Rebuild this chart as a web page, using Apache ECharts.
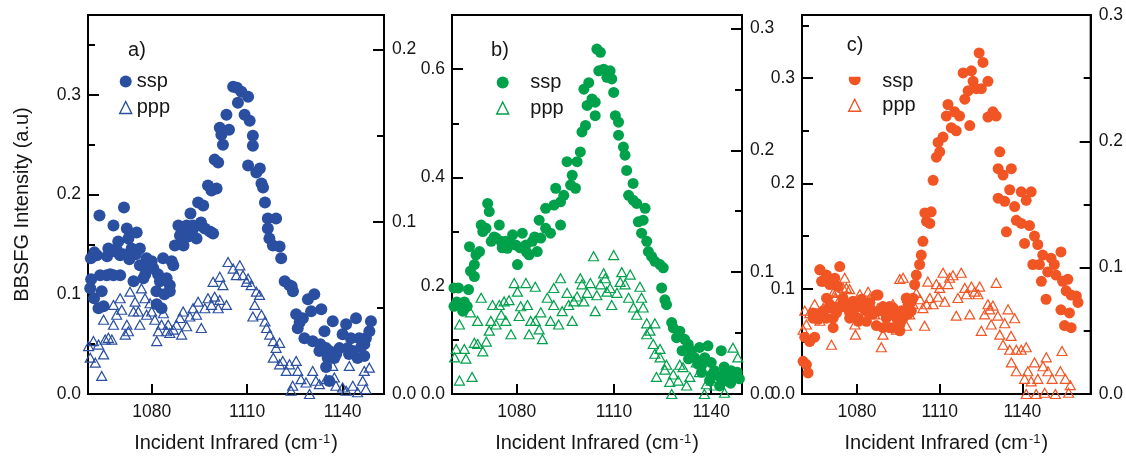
<!DOCTYPE html>
<html>
<head>
<meta charset="utf-8">
<script src="https://cdn.jsdelivr.net/npm/echarts@6/dist/echarts.min.js"></script>
<style>
  html, body { margin: 0; padding: 0; background: #fff; }
  #chart { width: 1126px; height: 458px; }
</style>
</head>
<body>
<div id="chart"></div>
<script>
// ---- measured spectra: [wavenumber (cm-1), intensity] ----
const sspA = [[1059.9,0.187],[1063.6,0.179],[1060.9,0.136],[1062.8,0.139],[1060.7,0.106],[1061.9,0.096],[1064.3,0.103],[1063.3,0.086],[1064.9,0.088],[1063.8,0.119],[1065.9,0.119],[1066.4,0.146],[1068.0,0.169],[1068.5,0.143],[1069.5,0.153],[1071.3,0.187],[1072.2,0.166],[1072.7,0.156],[1070.1,0.139],[1068.0,0.119],[1070.1,0.119],[1073.7,0.146],[1075.3,0.162],[1074.3,0.113],[1076.3,0.146],[1076.3,0.129],[1077.9,0.129],[1078.4,0.136],[1080.0,0.133],[1077.4,0.116],[1080.5,0.126],[1081.5,0.103],[1083.6,0.136],[1082.6,0.113],[1084.7,0.116],[1086.3,0.133],[1085.7,0.109],[1083.1,0.086],[1081.6,0.090],[1085.7,0.103],[1086.8,0.129],[1087.3,0.149],[1088.9,0.159],[1088.4,0.169],[1090.0,0.149],[1091.0,0.169],[1092.2,0.181],[1092.7,0.163],[1094.1,0.156],[1093.0,0.169],[1095.1,0.169],[1094.6,0.192],[1096.2,0.189],[1096.7,0.166],[1098.3,0.163],[1099.3,0.161],[1097.7,0.209],[1098.8,0.204],[1100.4,0.206],[1099.8,0.235],[1100.9,0.232],[1101.4,0.267],[1101.9,0.260],[1102.4,0.250],[1103.5,0.280],[1104.3,0.265],[1105.6,0.308],[1106.8,0.307],[1107.1,0.292],[1108.2,0.303],[1110.3,0.298],[1109.2,0.280],[1110.8,0.274],[1111.8,0.259],[1110.3,0.229],[1111.8,0.249],[1112.9,0.222],[1114.0,0.226],[1114.5,0.211],[1115.0,0.207],[1115.6,0.192],[1116.5,0.176],[1119.1,0.176],[1116.5,0.166],[1117.0,0.156],[1118.1,0.149],[1120.2,0.148],[1120.7,0.136],[1121.8,0.113],[1123.3,0.109],[1124.4,0.103],[1125.4,0.080],[1127.5,0.076],[1125.9,0.066],[1128.0,0.056],[1129.1,0.095],[1131.1,0.100],[1130.1,0.083],[1133.3,0.085],[1130.6,0.053],[1132.7,0.043],[1134.8,0.046],[1136.9,0.073],[1134.3,0.063],[1135.8,0.043],[1137.4,0.036],[1135.3,0.036],[1134.8,0.027],[1135.8,0.013],[1139.0,0.046],[1140.0,0.060],[1141.1,0.070],[1142.6,0.056],[1141.6,0.046],[1144.2,0.076],[1143.2,0.043],[1144.7,0.036],[1145.2,0.056],[1146.8,0.050],[1147.3,0.056],[1148.9,0.073],[1148.4,0.063],[1146.8,0.038],[1066.0,0.138],[1067.0,0.120],[1069.0,0.145],[1071.0,0.140],[1073.0,0.135],[1075.0,0.140],[1078.0,0.120],[1079.0,0.130],[1082.0,0.120],[1084.0,0.100],[1061.0,0.115],[1062.0,0.142],[1089.5,0.160],[1091.5,0.158],[1095.5,0.172],[1124.0,0.108],[1126.5,0.072],[1133.0,0.050],[1138.0,0.040],[1142.0,0.040],[1145.8,0.047]];
const pppA = [[1060.2,0.0278],[1061.7,0.0307],[1060.7,0.0211],[1062.3,0.0182],[1064.3,0.0105],[1064.9,0.0230],[1063.3,0.0287],[1065.4,0.0316],[1064.9,0.0431],[1066.4,0.0326],[1067.5,0.0316],[1068.0,0.0402],[1068.0,0.0517],[1069.0,0.0460],[1070.1,0.0556],[1070.6,0.0489],[1071.7,0.0345],[1072.2,0.0402],[1072.7,0.0364],[1073.2,0.0594],[1074.3,0.0479],[1074.8,0.0536],[1076.3,0.0402],[1075.8,0.0479],[1076.8,0.0613],[1077.9,0.0556],[1078.4,0.0460],[1079.5,0.0527],[1080.0,0.0479],[1081.0,0.0431],[1081.6,0.0307],[1082.1,0.0364],[1083.1,0.0402],[1083.7,0.0469],[1084.7,0.0364],[1085.2,0.0402],[1085.7,0.0354],[1086.8,0.0374],[1087.8,0.0402],[1088.9,0.0441],[1089.4,0.0345],[1089.9,0.0479],[1091.0,0.0393],[1092.0,0.0450],[1093.0,0.0498],[1094.1,0.0460],[1094.6,0.0536],[1095.6,0.0383],[1096.7,0.0498],[1097.7,0.0556],[1098.8,0.0517],[1099.8,0.0565],[1100.9,0.0498],[1101.4,0.0546],[1103.5,0.0517],[1099.3,0.0651],[1101.4,0.0680],[1102.4,0.0632],[1104.0,0.0766],[1105.6,0.0728],[1106.6,0.0690],[1107.7,0.0747],[1108.7,0.0690],[1109.8,0.0651],[1110.3,0.0670],[1111.3,0.0632],[1112.9,0.0594],[1113.9,0.0575],[1112.4,0.0517],[1114.5,0.0460],[1111.8,0.0450],[1115.6,0.0421],[1116.1,0.0383],[1117.1,0.0345],[1118.2,0.0307],[1119.1,0.0268],[1120.2,0.0297],[1118.2,0.0211],[1120.2,0.0172],[1121.2,0.0192],[1122.3,0.0134],[1123.3,0.0172],[1125.4,0.0192],[1125.9,0.0134],[1123.8,0.0019],[1124.3,0.0048],[1126.9,0.0086],[1128.5,0.0067],[1129.6,0.0000],[1130.6,0.0134],[1131.6,0.0077],[1132.7,0.0057],[1134.8,0.0086],[1136.9,0.0163],[1137.4,0.0096],[1137.9,0.0048],[1140.0,0.0038],[1141.1,0.0019],[1142.1,0.0163],[1143.2,0.0048],[1144.7,0.0010],[1146.3,0.0077],[1146.8,0.0134],[1147.3,0.0029],[1148.4,0.0153]];

const sspB = [[1060.6,0.196],[1062.0,0.196],[1060.6,0.162],[1062.8,0.165],[1063.3,0.153],[1064.7,0.162],[1065.1,0.193],[1065.7,0.227],[1065.4,0.272],[1066.9,0.239],[1066.9,0.217],[1067.4,0.257],[1068.5,0.263],[1069.0,0.312],[1071.0,0.352],[1071.5,0.337],[1069.5,0.300],[1070.5,0.306],[1072.1,0.282],[1073.6,0.288],[1074.6,0.312],[1075.1,0.282],[1076.6,0.282],[1077.1,0.269],[1078.7,0.294],[1079.7,0.275],[1080.2,0.239],[1081.7,0.297],[1082.8,0.275],[1083.8,0.257],[1084.8,0.282],[1086.3,0.263],[1086.9,0.321],[1087.4,0.288],[1088.9,0.306],[1088.9,0.343],[1090.4,0.297],[1091.5,0.349],[1092.0,0.380],[1093.5,0.355],[1093.5,0.312],[1094.5,0.367],[1095.5,0.429],[1096.6,0.386],[1097.1,0.404],[1098.1,0.380],[1098.6,0.429],[1099.6,0.447],[1100.1,0.484],[1101.2,0.496],[1101.7,0.533],[1100.7,0.563],[1102.2,0.575],[1103.2,0.545],[1104.2,0.539],[1104.2,0.514],[1104.7,0.637],[1105.8,0.631],[1105.3,0.597],[1106.8,0.600],[1107.8,0.585],[1108.8,0.597],[1109.3,0.582],[1109.9,0.557],[1110.4,0.514],[1111.4,0.502],[1111.4,0.478],[1112.9,0.456],[1113.4,0.441],[1113.9,0.413],[1114.5,0.367],[1115.9,0.389],[1115.9,0.358],[1117.0,0.352],[1117.5,0.318],[1119.0,0.321],[1119.6,0.343],[1118.5,0.297],[1120.1,0.282],[1120.6,0.263],[1121.6,0.254],[1122.6,0.245],[1124.2,0.239],[1125.2,0.233],[1124.7,0.196],[1125.7,0.174],[1126.2,0.165],[1127.8,0.132],[1128.3,0.122],[1129.3,0.104],[1130.3,0.116],[1131.8,0.101],[1132.9,0.092],[1133.9,0.080],[1136.4,0.086],[1139.0,0.089],[1134.9,0.067],[1135.9,0.055],[1137.0,0.040],[1138.0,0.067],[1140.0,0.058],[1141.0,0.043],[1142.6,0.031],[1143.1,0.080],[1144.1,0.037],[1145.1,0.024],[1146.2,0.043],[1147.2,0.031],[1148.7,0.028],[1142.6,0.015],[1131.0,0.080],[1133.0,0.065],[1137.0,0.052],[1140.0,0.035],[1144.0,0.050],[1146.0,0.020],[1148.0,0.040],[1073.0,0.290],[1075.5,0.270],[1078.0,0.280],[1081.0,0.270],[1083.0,0.262],[1085.5,0.290],[1061.5,0.170],[1063.8,0.170],[1139.5,0.025],[1143.5,0.028]];
const pppB = [[1059.8,0.019],[1060.8,0.030],[1061.3,0.037],[1062.3,0.011],[1062.3,0.057],[1063.8,0.037],[1064.3,0.029],[1065.7,0.067],[1066.2,0.014],[1066.9,0.042],[1067.9,0.041],[1067.9,0.060],[1069.0,0.079],[1069.5,0.035],[1070.6,0.043],[1071.5,0.052],[1072.0,0.060],[1072.5,0.073],[1073.6,0.057],[1074.6,0.073],[1075.2,0.065],[1076.1,0.076],[1076.6,0.060],[1077.6,0.077],[1078.2,0.049],[1079.2,0.091],[1080.2,0.084],[1080.7,0.064],[1081.2,0.072],[1082.8,0.091],[1083.3,0.073],[1083.8,0.049],[1084.3,0.060],[1085.7,0.088],[1085.7,0.060],[1086.9,0.053],[1087.4,0.067],[1087.9,0.045],[1089.4,0.079],[1090.4,0.060],[1091.4,0.087],[1091.4,0.073],[1092.9,0.057],[1093.5,0.095],[1094.0,0.068],[1095.5,0.083],[1096.0,0.073],[1097.1,0.060],[1097.6,0.076],[1098.6,0.080],[1099.6,0.095],[1100.1,0.090],[1100.7,0.076],[1101.7,0.083],[1102.7,0.091],[1103.7,0.113],[1104.2,0.068],[1104.7,0.081],[1105.8,0.090],[1106.8,0.099],[1107.3,0.095],[1107.8,0.084],[1108.8,0.087],[1109.3,0.073],[1109.9,0.114],[1110.9,0.083],[1111.9,0.092],[1112.4,0.100],[1113.4,0.090],[1114.5,0.079],[1115.0,0.098],[1116.0,0.071],[1117.0,0.065],[1118.0,0.088],[1118.5,0.079],[1119.0,0.071],[1120.1,0.058],[1120.1,0.049],[1121.1,0.052],[1122.6,0.058],[1122.1,0.041],[1122.6,0.033],[1124.2,0.037],[1124.2,0.030],[1125.7,0.020],[1126.2,0.024],[1123.1,0.014],[1127.2,0.010],[1127.8,0.000],[1128.3,0.016],[1129.8,0.011],[1130.3,0.024],[1131.3,0.022],[1132.4,0.007],[1133.4,0.014],[1135.4,0.026],[1136.4,0.018],[1137.9,0.000],[1138.5,0.008],[1140.0,0.011],[1141.0,0.007],[1143.1,0.012],[1144.1,0.001],[1145.6,0.012],[1146.7,0.038],[1148.2,0.030]];

const sspC = [[1060.4,0.031],[1061.6,0.028],[1062.2,0.020],[1061.0,0.054],[1062.8,0.050],[1064.6,0.054],[1064.0,0.072],[1065.9,0.071],[1066.5,0.118],[1067.1,0.107],[1068.9,0.113],[1070.1,0.104],[1071.9,0.110],[1073.1,0.102],[1073.7,0.121],[1067.7,0.079],[1068.9,0.072],[1070.1,0.082],[1071.3,0.063],[1072.5,0.077],[1073.7,0.082],[1074.9,0.091],[1076.1,0.085],[1077.3,0.077],[1078.5,0.088],[1079.8,0.082],[1080.4,0.072],[1081.6,0.090],[1082.8,0.080],[1083.4,0.069],[1084.6,0.087],[1085.8,0.076],[1087.0,0.094],[1088.2,0.079],[1089.4,0.063],[1090.6,0.072],[1091.8,0.083],[1093.0,0.063],[1094.3,0.076],[1095.5,0.060],[1096.7,0.072],[1097.9,0.091],[1098.5,0.076],[1099.7,0.079],[1100.3,0.091],[1100.9,0.104],[1101.5,0.113],[1102.7,0.123],[1103.3,0.132],[1103.9,0.145],[1105.2,0.164],[1104.6,0.172],[1106.9,0.173],[1106.4,0.162],[1107.6,0.203],[1108.8,0.225],[1110.0,0.230],[1109.4,0.239],[1111.2,0.244],[1112.4,0.264],[1113.0,0.275],[1114.2,0.253],[1115.4,0.268],[1116.0,0.250],[1117.2,0.264],[1118.5,0.305],[1119.1,0.280],[1120.3,0.288],[1120.9,0.255],[1121.5,0.307],[1122.1,0.297],[1123.3,0.290],[1124.3,0.324],[1125.7,0.315],[1125.1,0.290],[1127.5,0.297],[1129.3,0.268],[1130.5,0.264],[1127.5,0.263],[1131.8,0.230],[1131.2,0.214],[1133.0,0.208],[1136.0,0.214],[1131.2,0.186],[1133.6,0.183],[1135.4,0.194],[1137.2,0.178],[1134.2,0.154],[1137.8,0.165],[1139.6,0.192],[1141.4,0.184],[1143.2,0.192],[1140.8,0.143],[1139.6,0.162],[1142.6,0.160],[1144.4,0.150],[1145.6,0.142],[1143.8,0.123],[1146.2,0.123],[1147.4,0.132],[1146.9,0.107],[1148.6,0.090],[1149.2,0.116],[1150.4,0.129],[1151.6,0.123],[1154.0,0.135],[1152.2,0.113],[1154.6,0.107],[1156.5,0.109],[1155.9,0.098],[1157.7,0.094],[1159.6,0.093],[1160.2,0.087],[1154.0,0.080],[1155.3,0.065],[1157.7,0.063],[1157.1,0.077],[1066.5,0.118],[1067.7,0.107],[1062.8,0.050],[1064.0,0.077],[1067.1,0.077],[1070.1,0.085],[1072.5,0.082],[1074.9,0.088],[1076.1,0.082],[1078.0,0.077],[1079.8,0.085],[1081.6,0.087],[1083.4,0.079],[1085.2,0.080],[1087.6,0.094],[1089.4,0.083],[1091.2,0.076],[1093.0,0.082],[1094.3,0.072],[1096.1,0.079],[1097.9,0.091],[1098.5,0.085],[1099.7,0.088],[1077.3,0.072],[1080.4,0.069],[1087.0,0.065],[1091.8,0.063],[1095.5,0.066],[1071.3,0.072],[1068.9,0.091]];
const pppC = [[1059.2,0.045],[1060.4,0.051],[1061.0,0.066],[1061.6,0.055],[1064.6,0.071],[1067.7,0.068],[1068.9,0.068],[1070.7,0.039],[1071.3,0.080],[1072.5,0.081],[1073.7,0.075],[1075.5,0.092],[1076.1,0.084],[1077.3,0.083],[1079.2,0.055],[1079.4,0.047],[1081.0,0.079],[1084.0,0.081],[1084.6,0.076],[1086.4,0.063],[1088.8,0.037],[1089.4,0.047],[1090.6,0.063],[1091.9,0.066],[1094.3,0.051],[1095.5,0.091],[1096.7,0.092],[1097.9,0.054],[1099.1,0.063],[1100.3,0.071],[1101.5,0.080],[1102.8,0.075],[1103.9,0.068],[1104.5,0.054],[1105.2,0.071],[1105.7,0.089],[1106.4,0.076],[1107.6,0.071],[1108.8,0.087],[1109.4,0.077],[1110.0,0.084],[1111.2,0.096],[1111.8,0.073],[1113.0,0.087],[1113.6,0.092],[1114.8,0.094],[1116.0,0.062],[1116.6,0.076],[1117.8,0.096],[1119.1,0.084],[1119.7,0.079],[1120.9,0.063],[1121.5,0.085],[1122.7,0.081],[1123.9,0.079],[1124.5,0.085],[1125.1,0.050],[1126.3,0.063],[1127.5,0.071],[1128.1,0.067],[1128.7,0.055],[1129.3,0.070],[1130.5,0.088],[1131.1,0.062],[1131.8,0.047],[1133.0,0.039],[1133.6,0.056],[1134.8,0.067],[1135.4,0.035],[1135.9,0.046],[1137.2,0.060],[1137.8,0.035],[1139.6,0.035],[1141.4,0.037],[1136.0,0.025],[1137.8,0.018],[1140.8,0.012],[1142.0,0.018],[1143.2,0.010],[1144.4,0.025],[1145.6,0.012],[1141.4,0.000],[1145.0,0.000],[1147.5,0.022],[1148.7,0.029],[1149.3,0.018],[1148.1,0.001],[1150.8,0.012],[1152.0,0.000],[1153.8,0.018],[1154.4,0.034],[1155.6,0.012],[1156.8,0.001],[1157.4,0.007],[1062.8,0.064],[1066.5,0.058],[1072.0,0.076],[1074.9,0.084],[1078.0,0.071],[1082.8,0.062],[1087.6,0.068],[1093.0,0.071],[1098.3,0.076]];

// ---- tick values ----
const xTicks = [1080, 1110, 1140];
const leftTicksA = [0, 0.1, 0.2, 0.3];
const leftMinorA = [0.05, 0.15, 0.25, 0.35];
const rightTicksA = [0, 0.1, 0.2];
const rightMinorA = [0.05, 0.15];
const leftTicksB = [0, 0.2, 0.4, 0.6];
const leftMinorB = [0.1, 0.3, 0.5];
const rightTicksB = [0, 0.1, 0.2, 0.3];
const rightMinorB = [0.05, 0.15, 0.25];
const leftTicksC = [0, 0.1, 0.2, 0.3];
const leftMinorC = [0.05, 0.15, 0.25, 0.35];
const rightTicksC = [0, 0.1, 0.2, 0.3];
const rightMinorC = [0.05, 0.15, 0.25];

const FONT = 'Liberation Sans, Arial, Helvetica, sans-serif';
const INK = '#161616';

// one entry per panel: layout, axis extents and colour
const panels = [
  { tag: 'a)', tagPos: [137, 50], color: '#2a4fa1', grid: { left: 88, top: 15, width: 296, height: 382 },
    xRange: [1060, 1153], leftRange: [0, 0.38], rightRange: [0, 0.22],
    leftTicks: leftTicksA, leftMinor: leftMinorA, rightTicks: rightTicksA, rightMinor: rightMinorA,
    ssp: sspA, ppp: pppA, dot: 12, tri: [10, 9],
    legend: { left: 119, top: 71.5, gap: 6, pad: '' } },
  { tag: 'b)', tagPos: [500, 50], color: '#00a14b', grid: { left: 452, top: 15, width: 290, height: 382 },
    xRange: [1060, 1149.5], leftRange: [0, 0.70], rightRange: [0, 0.311],
    leftTicks: leftTicksB, leftMinor: leftMinorB, rightTicks: rightTicksB, rightMinor: rightMinorB,
    ssp: sspB, ppp: pppB, dot: 11, tri: [10, 9],
    legend: { left: 496, top: 72.5, gap: 5.5, pad: '   ' } },
  { tag: 'c)', tagPos: [855, 45], color: '#f15524', grid: { left: 802, top: 15, width: 289, height: 382 },
    xRange: [1060, 1164.8], leftRange: [0, 0.36], rightRange: [0, 0.30],
    leftTicks: leftTicksC, leftMinor: leftMinorC, rightTicks: rightTicksC, rightMinor: rightMinorC,
    ssp: sspC, ppp: pppC, dot: 11, tri: [10, 9],
    legend: { left: 848, top: 71, gap: 4.3, pad: '   ' }, halfDot: true }
];

const fmt1 = v => Number(v).toFixed(1);

const grids = [], xAxes = [], yAxes = [], series = [], legends = [], graphics = [];

panels.forEach((p, i) => {
  grids.push(Object.assign({ show: true, borderColor: '#000', borderWidth: 2, backgroundColor: 'transparent', containLabel: false }, p.grid));

  xAxes.push({
    type: 'value', gridIndex: i, min: p.xRange[0], max: p.xRange[1],
    name: 'Incident Infrared (cm{sup|-1})', nameLocation: 'middle', nameGap: 39,
    nameTextStyle: { fontFamily: FONT, fontSize: 20, color: INK,
      rich: { sup: { fontFamily: FONT, fontSize: 13, color: INK, verticalAlign: 'top', padding: [0, 1, 0, 1] } } },
    axisLine: { show: true, lineStyle: { color: '#000', width: 2 } },
    axisTick: { show: true, inside: true, length: 10, customValues: xTicks, lineStyle: { color: '#000', width: 2 } },
    axisLabel: { show: true, customValues: xTicks, margin: 9, fontFamily: FONT, fontSize: 17.5, color: INK, formatter: v => String(v) },
    splitLine: { show: false }
  });

  const base = yAxes.length;
  const labelStyle = { fontFamily: FONT, fontSize: 17.5, color: INK, formatter: fmt1 };
  // major ticks with labels
  yAxes.push({
    type: 'value', gridIndex: i, position: 'left', min: p.leftRange[0], max: p.leftRange[1],
    axisLine: { show: true, lineStyle: { color: '#000', width: 2 } },
    axisTick: { show: true, inside: true, length: 11, customValues: p.leftTicks, lineStyle: { color: '#000', width: 2 } },
    axisLabel: Object.assign({ customValues: p.leftTicks, margin: 7 }, labelStyle),
    splitLine: { show: false },
    name: i === 0 ? 'BBSFG Intensity (a.u)' : '', nameLocation: 'middle', nameGap: 56,
    nameTextStyle: { fontFamily: FONT, fontSize: 20, color: INK }
  });
  yAxes.push({
    type: 'value', gridIndex: i, position: 'right', min: p.rightRange[0], max: p.rightRange[1],
    axisLine: { show: true, lineStyle: { color: '#000', width: 2 } },
    axisTick: { show: true, inside: true, length: 11, customValues: p.rightTicks, lineStyle: { color: '#000', width: 2 } },
    axisLabel: Object.assign({ customValues: p.rightTicks, margin: 8 }, labelStyle),
    splitLine: { show: false }
  });
  // minor ticks only
  yAxes.push({
    type: 'value', gridIndex: i, position: 'left', min: p.leftRange[0], max: p.leftRange[1],
    axisLine: { show: false },
    axisTick: { show: true, inside: true, length: 7, customValues: p.leftMinor, lineStyle: { color: '#000', width: 2 } },
    axisLabel: { show: false }, splitLine: { show: false }
  });
  yAxes.push({
    type: 'value', gridIndex: i, position: 'right', min: p.rightRange[0], max: p.rightRange[1],
    axisLine: { show: false },
    axisTick: { show: true, inside: true, length: 7, customValues: p.rightMinor, lineStyle: { color: '#000', width: 2 } },
    axisLabel: { show: false }, splitLine: { show: false }
  });

  const sspName = p.tag + 'ssp', pppName = p.tag + 'ppp';
  series.push({
    name: sspName, type: 'scatter', xAxisIndex: i, yAxisIndex: base,
    data: p.ssp, symbol: 'circle', symbolSize: p.dot,
    itemStyle: { color: p.color, opacity: 1 }, silent: true, animation: false
  });
  series.push({
    name: pppName, type: 'scatter', xAxisIndex: i, yAxisIndex: base + 1,
    data: p.ppp, symbol: 'triangle', symbolSize: p.tri,
    itemStyle: { color: 'rgba(255,255,255,0)', borderColor: p.color, borderWidth: 1.2, opacity: 1 },
    silent: true, animation: false
  });

  legends.push({
    orient: 'vertical', left: p.legend.left, top: p.legend.top, itemGap: p.legend.gap,
    itemWidth: 12, itemHeight: 12, selectedMode: false, padding: 0,
    textStyle: { fontFamily: FONT, fontSize: 20, color: INK },
    formatter: name => p.legend.pad + name.slice(2),
    data: [
      { name: sspName,
        icon: p.halfDot ? 'path://M0.42,3 L9.58,3 A5,5 0 1 1 0.42,3 Z' : 'circle',
        itemStyle: { color: p.color, borderWidth: 0 } },
      { name: pppName, icon: 'triangle',
        itemStyle: { color: 'rgba(255,255,255,0)', borderColor: p.color, borderWidth: 1.4 } }
    ]
  });

  graphics.push({
    type: 'text', x: p.tagPos[0], y: p.tagPos[1],
    style: { text: p.tag, font: '20px ' + FONT, fill: INK, textAlign: 'center', textVerticalAlign: 'middle' }
  });
});

const chart = echarts.init(document.getElementById('chart'), null, { renderer: 'canvas' });
chart.setOption({
  backgroundColor: '#ffffff',
  animation: false,
  grid: grids,
  xAxis: xAxes,
  yAxis: yAxes,
  legend: legends,
  series: series,
  graphic: graphics
});
</script>
</body>
</html>
